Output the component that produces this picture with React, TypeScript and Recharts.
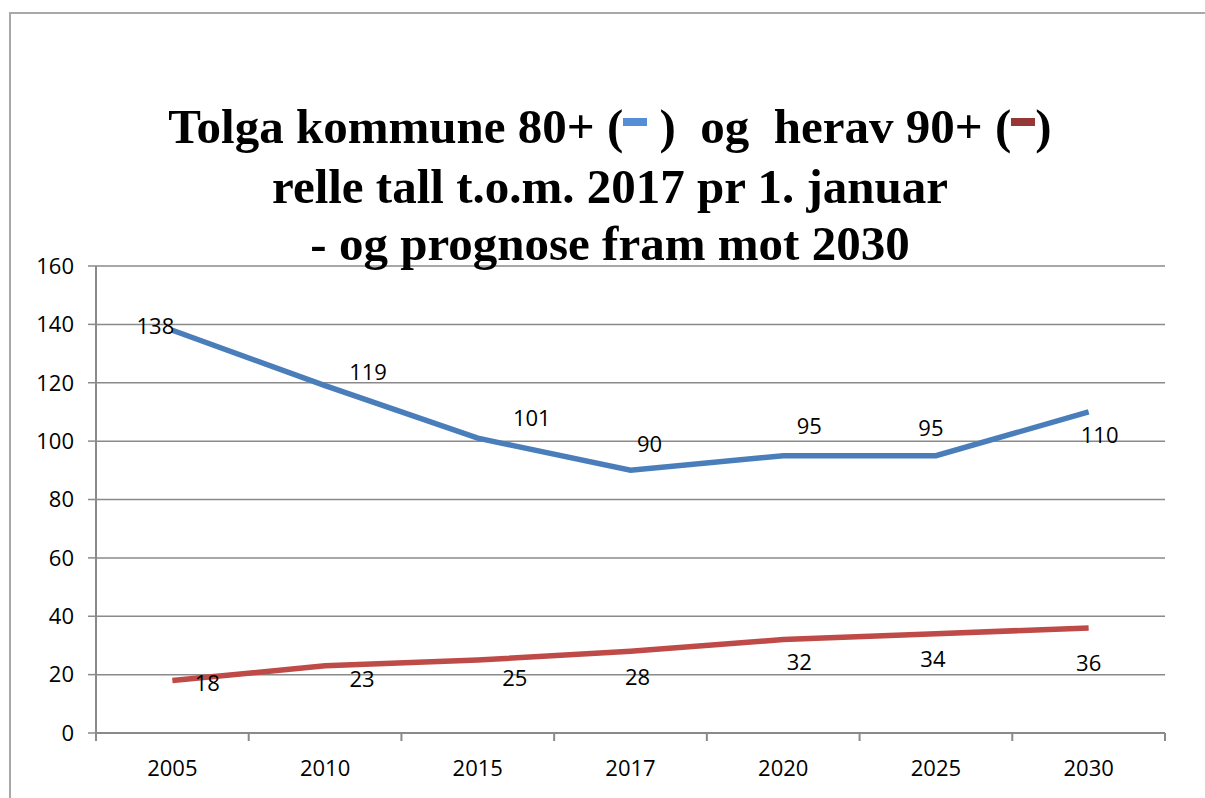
import { CartesianGrid, LabelList, Line, LineChart, XAxis, YAxis } from "recharts";

// Tolga kommune: 80+ og herav 90+, reelle tal t.o.m. 2017 og prognose mot 2030
const years = ["2005", "2010", "2015", "2017", "2020", "2025", "2030"];
const age80 = [138, 119, 101, 90, 95, 95, 110];
const age90 = [18, 23, 25, 28, 32, 34, 36];
const yTicks = [0, 20, 40, 60, 80, 100, 120, 140, 160];

// label nudges (px) relative to each point, as placed in the original
const labelShift80: [number, number][] = [[-17, -5], [43, -15], [54, -21], [19, -27], [26, -31], [-5, -29], [11, 22]];
const labelShift90: [number, number][] = [[35, 2], [37, 12], [37, 17], [7, 25], [16, 21], [-3, 24], [0, 34]];

const BLUE = "#4A7EBB";
const RED = "#BE4B48";
const AXIS = "#8A8A8A";
const FONT = "'Open Sans', sans-serif";
const X_TICK_SIZE = 6;
const X_TICK_MARGIN = 21;

const rows = years.map((y, i) => ({ year: y, a80: age80[i], a90: age90[i] }));

function shiftedLabel(shifts: [number, number][]) {
  return (p: any) => {
    const [dx, dy] = shifts[p.index] ?? [0, 0];
    return (
      <text
        x={Number(p.x) + dx}
        y={Number(p.y) + dy}
        textAnchor="middle"
        dominantBaseline="central"
        fontFamily={FONT}
        fontSize={22}
        fill="#000"
      >
        {p.value}
      </text>
    );
  };
}

// category label centred in its band, with Excel-style tick marks on the band edges
function YearTick(p: any) {
  const band = Number(p.width) / Number(p.visibleTicksCount);
  const axisY = Number(p.y) - X_TICK_SIZE - X_TICK_MARGIN;
  const left = Number(p.x) - band / 2;
  const last = p.index === p.visibleTicksCount - 1;
  return (
    <g>
      <line x1={left} x2={left} y1={axisY} y2={axisY + 8} stroke={AXIS} strokeWidth={2} />
      {last && <line x1={left + band} x2={left + band} y1={axisY} y2={axisY + 8} stroke={AXIS} strokeWidth={2} />}
      <text x={p.x} y={p.y} dy="0.71em" textAnchor="middle" fontFamily={FONT} fontSize={22} fill="#000">
        {p.payload.value}
      </text>
    </g>
  );
}

function Swatch({ color }: { color: string }) {
  return (
    <span
      style={{
        display: "inline-block",
        width: 24,
        height: 8,
        background: color,
        verticalAlign: 17,
      }}
    />
  );
}

export default function App() {
  return (
    <div style={{ position: "absolute", left: 0, top: 0, width: 1205, height: 798, background: "#fff", overflow: "hidden" }}>
      <div
        style={{
          position: "absolute",
          left: 9,
          top: 12,
          width: 1200,
          height: 800,
          borderLeft: "2px solid #a8a8a8",
          borderTop: "2px solid #a8a8a8",
        }}
      />
      <LineChart width={1205} height={798} data={rows} margin={{ top: 266, right: 40, bottom: 15, left: 10 }}>
        <CartesianGrid vertical={false} stroke={AXIS} strokeWidth={1.5} />
        <XAxis
          dataKey="year"
          scale="band"
          height={50}
          axisLine={{ stroke: AXIS, strokeWidth: 2 }}
          tickLine={false}
          tickSize={X_TICK_SIZE}
          tickMargin={X_TICK_MARGIN}
          tick={<YearTick />}
        />
        <YAxis
          domain={[0, 160]}
          ticks={yTicks}
          width={86}
          axisLine={{ stroke: AXIS, strokeWidth: 2 }}
          tickLine={{ stroke: AXIS, strokeWidth: 1.5 }}
          tickSize={8}
          tickMargin={14}
          tick={{ fill: "#000", fontSize: 22, fontFamily: FONT }}
        />
        <Line dataKey="a80" type="linear" stroke={BLUE} strokeWidth={5.5} dot={false} isAnimationActive={false}>
          <LabelList dataKey="a80" content={shiftedLabel(labelShift80)} />
        </Line>
        <Line dataKey="a90" type="linear" stroke={RED} strokeWidth={5.5} dot={false} isAnimationActive={false}>
          <LabelList dataKey="a90" content={shiftedLabel(labelShift90)} />
        </Line>
      </LineChart>
      <div
        style={{
          position: "absolute",
          left: 0,
          top: 98,
          width: 1220,
          textAlign: "center",
          fontFamily: "'Liberation Serif', 'Times New Roman', serif",
          fontWeight: "bold",
          fontSize: 49,
          lineHeight: "57px",
          color: "#000",
          whiteSpace: "pre",
        }}
      >
        <div style={{ marginBottom: 3 }}>
          Tolga kommune 80+ (<Swatch color="#558ED5" /> )  og  herav 90+ (<Swatch color="#953735" />)
        </div>
        <div>relle tall t.o.m. 2017 pr 1. januar</div>
        <div>- og prognose fram mot 2030</div>
      </div>
    </div>
  );
}
